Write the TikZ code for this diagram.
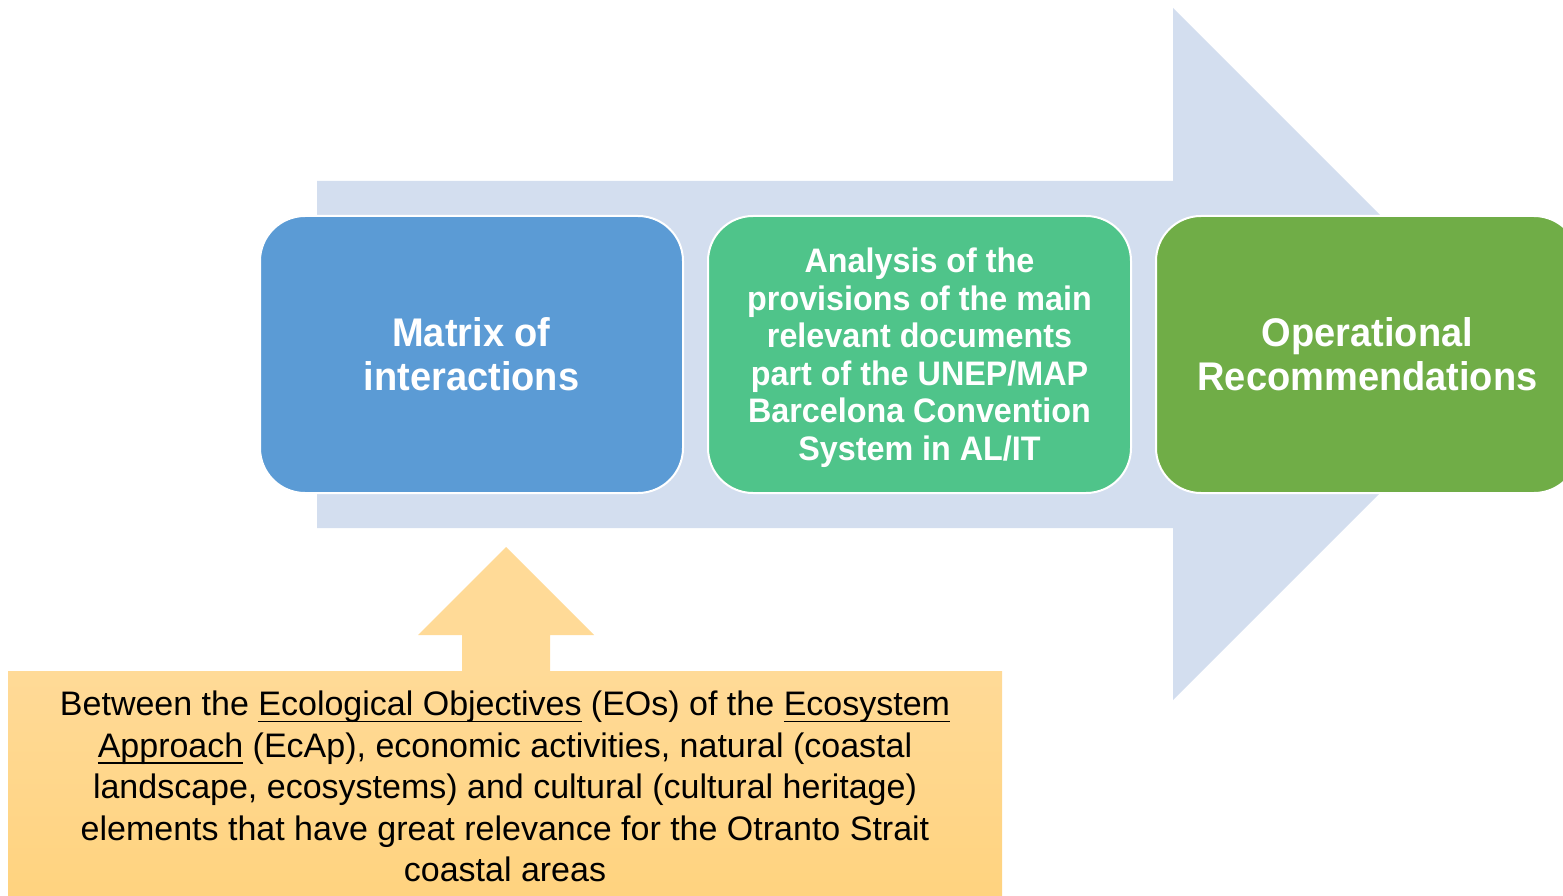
\documentclass[tikz,border=0pt]{standalone}
\usepackage{fontspec}
\setmainfont[BoldFeatures={FakeStretch=0.95}]{Liberation Sans}
\usetikzlibrary{positioning}
\definecolor{flowblue}{HTML}{D3DEEF}
\definecolor{matrixblue}{HTML}{5B9BD5}
\definecolor{docgreen}{HTML}{4FC48A}
\definecolor{recgreen}{HTML}{70AD47}
\definecolor{eotop}{HTML}{FFDA97}
\definecolor{eobottom}{HTML}{FFD37F}
% underline set a bit lower, as in the source
\newcommand\eoline[1]{\leavevmode\setbox0\hbox{#1}\rlap{\vrule height -5pt depth 6.6pt width \wd0}\box0\relax}

\begin{document}
\begin{tikzpicture}[x=1pt,y=-1pt,
  stepbox/.style={draw=white,line width=2pt,rounded corners=45pt,minimum width=423pt,minimum height=277pt,align=center,text=white,inner sep=0pt},
  bigtext/.style={font=\fontsize{40}{44}\selectfont\bfseries},
  smalltext/.style={font=\fontsize{34}{37.5}\selectfont\bfseries}]
\useasboundingbox (0,0) rectangle (1563,896);
\clip (0,0) rectangle (1563,896);
% flow arrow behind the steps
\fill[flowblue] (317,181) -- (1173,181) -- (1173,8) -- (1519,354) -- (1173,700) -- (1173,528) -- (317,528) -- cycle;
% steps
\node[stepbox,bigtext,fill=matrixblue] (matrix) at (471.5,354.5) {Matrix of\\interactions};
\node[stepbox,fill=docgreen,right=23pt of matrix] (docs) {};
\node[smalltext,text=white,align=center] at ([yshift=-3pt]docs.center) {Analysis of the\\provisions of the main\\relevant documents\\part of the UNEP/MAP\\Barcelona Convention\\System in AL/IT};
\node[stepbox,bigtext,fill=recgreen,right=23pt of docs] (recs) {Operational\\Recommendations};
% input arrow
\fill[eotop] (506,547) -- (594,635) -- (550,635) -- (550,672) -- (462,672) -- (462,635) -- (418,635) -- cycle;
\node[minimum width=994pt,minimum height=225pt,inner sep=0pt,top color=eotop,bottom color=eobottom] (eos) at (505,783.5) {};
\node[align=center,font=\fontsize{34}{41.5}\selectfont] at ([yshift=-3pt]eos.center)
  {Between the \eoline{Ecological Objectives} (EOs) of the \eoline{Ecosystem}\\
   \eoline{Approach} (EcAp), economic activities, natural (coastal\\
   landscape, ecosystems) and cultural (cultural heritage)\\
   elements that have great relevance for the Otranto Strait\\
   coastal areas};
\end{tikzpicture}
\end{document}
